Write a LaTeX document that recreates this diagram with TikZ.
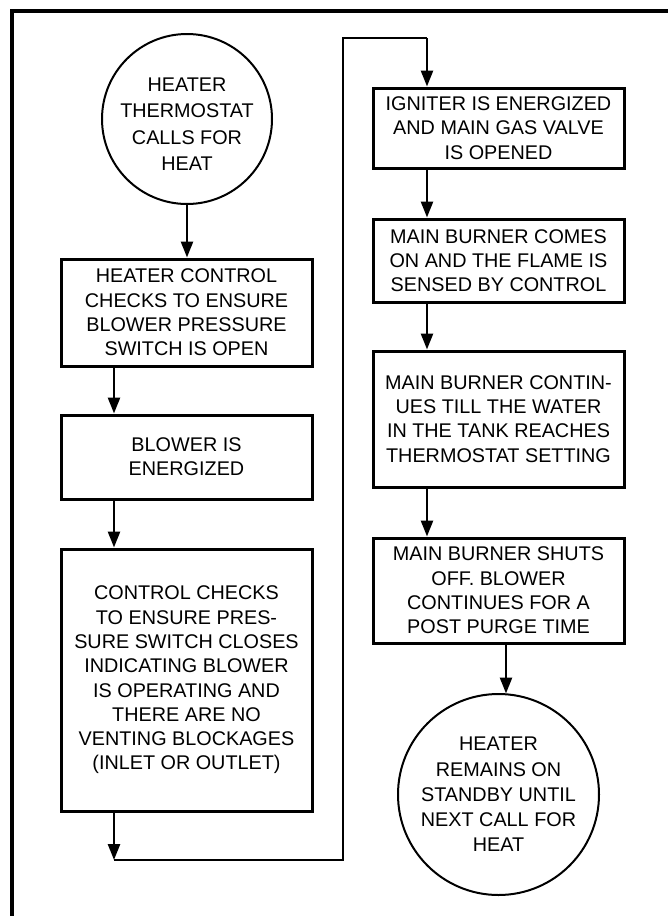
\documentclass[tikz,border=0pt]{standalone}
\usepackage{fontspec}
\setmainfont{Liberation Sans}
\usetikzlibrary{arrows.meta}
\begin{document}
\begin{tikzpicture}[x=1pt,y=-1pt,
  txt/.style={font=\fontsize{19.8}{24.3}\selectfont, align=center},
  box/.style={txt, draw, line width=3pt, rectangle, inner sep=0pt, minimum width=251pt},
  term/.style={draw, line width=2pt, circle, inner sep=0pt},
  conn/.style={line width=2.5pt},
  arr/.style={conn, -{Triangle[length=16pt,width=12pt]}},
  frameline/.style={line width=3.2pt}]
\useasboundingbox (0,0) rectangle (668,916);
% frame
\coordinate (fa) at (12,920);
\coordinate (fb) at (12,11);
\coordinate (fc) at (672,11);
\draw[frameline] (fa) -- (fb) -- (fc);
% lanes
\coordinate (xl) at (114,0);
\coordinate (xr) at (427,0);
\coordinate (xe) at (506,0);
% nodes
\node[term, minimum size=170pt] (c1) at (187,119) {};
\node[txt, font=\fontsize{19.8}{26.5}\selectfont, inner sep=0pt] (c1t) at (187,124) {HEATER\\THERMOSTAT\\CALLS FOR\\HEAT};
\node[box, minimum height=107pt] (b1) at (186.5,312.5) {HEATER CONTROL\\CHECKS TO ENSURE\\BLOWER PRESSURE\\SWITCH IS OPEN};
\node[box, minimum height=84pt] (b2) at (186.5,457) {BLOWER IS\\ENERGIZED};
\node[box, minimum height=262pt] (b3) at (186.5,680) {CONTROL CHECKS\\TO ENSURE PRES-\\SURE SWITCH CLOSES\\INDICATING BLOWER\\IS OPERATING AND\\THERE ARE NO\\VENTING BLOCKAGES\\(INLET OR OUTLET)};
\node[box, minimum height=80pt] (r1) at (498.5,128) {IGNITER IS ENERGIZED\\AND MAIN GAS VALVE\\IS OPENED};
\node[box, minimum height=83pt] (r2) at (498.5,260.5) {MAIN BURNER COMES\\ON AND THE FLAME IS\\SENSED BY CONTROL};
\node[box, minimum height=136pt] (r3) at (498.5,419) {MAIN BURNER CONTIN-\\UES TILL THE WATER\\IN THE TANK REACHES\\THERMOSTAT SETTING};
\node[box, minimum height=105pt] (r4) at (498.5,590.5) {MAIN BURNER SHUTS\\OFF. BLOWER\\CONTINUES FOR A\\POST PURGE TIME};
\node[term, minimum size=201pt] (c2) at (498.5,794.5) {};
\node[txt, font=\fontsize{19.8}{25.2}\selectfont, inner sep=0pt] (c2t) at (498.5,794.5) {HEATER\\REMAINS ON\\STANDBY UNTIL\\NEXT CALL FOR\\HEAT};
% route corners
\coordinate (k1) at (114,860);
\coordinate (k2) at (343,860);
\coordinate (k3) at (343,38);
\coordinate (k4) at (427,38);
% connectors
\draw[arr] (c1.south) -- (c1.south |- b1.north);
\draw[arr] (b1.south -| xl) -- (b2.north -| xl);
\draw[arr] (b2.south -| xl) -- (b3.north -| xl);
\draw[arr] (b3.south -| xl) -- (k1);
\draw[conn] (k1) -- (k2) -- (k3) -- (k4);
\draw[arr] (k4) -- (r1.north -| xr);
\draw[arr] (r1.south -| xr) -- (r2.north -| xr);
\draw[arr] (r2.south -| xr) -- (r3.north -| xr);
\draw[arr] (r3.south -| xr) -- (r4.north -| xr);
\draw[arr] (r4.south -| xe) -- ([yshift=-0.5pt]c2.north -| xe);
\end{tikzpicture}
\end{document}
